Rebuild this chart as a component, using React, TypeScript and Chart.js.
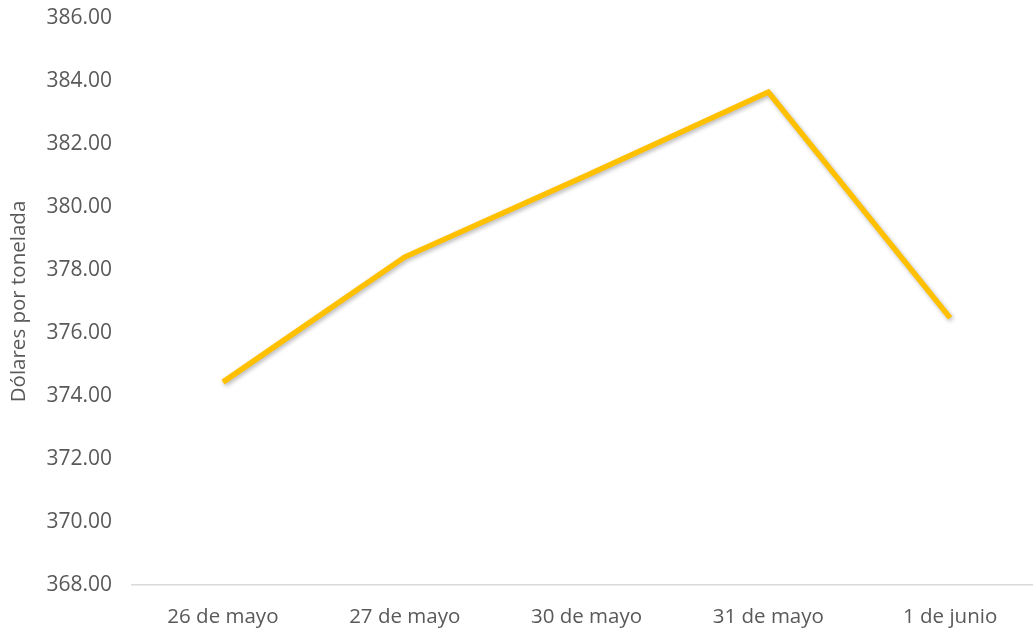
import React, { useEffect, useRef } from "react";
import { Chart, registerables } from "chart.js";

Chart.register(...registerables);

const categories = ["26 de mayo", "27 de mayo", "30 de mayo", "31 de mayo", "1 de junio"];
const prices = [374.44, 378.41, 381.0, 383.65, 376.48];
const yTitle = "Dólares por tonelada";
const yMin = 368;
const yMax = 386;
const yStep = 2;

const shadowPlugin = {
  id: "lineShadow",
  beforeDatasetsDraw(chart: any) {
    const ctx = chart.ctx;
    ctx.save();
    ctx.shadowColor = "rgba(0,0,0,0.28)";
    ctx.shadowBlur = 4;
    ctx.shadowOffsetX = 1.5;
    ctx.shadowOffsetY = 2;
  },
  afterDatasetsDraw(chart: any) {
    chart.ctx.restore();
  },
};

export default function App() {
  const ref = useRef<HTMLCanvasElement | null>(null);
  useEffect(() => {
    if (!ref.current) return;
    const family = "'Open Sans', sans-serif";
    const chart = new Chart(ref.current, {
      type: "line",
      data: {
        labels: categories,
        datasets: [
          {
            data: prices,
            borderColor: "#FFC000",
            borderWidth: 5.5,
            pointRadius: 0,
            pointHoverRadius: 0,
            tension: 0,
            fill: false,
            borderJoinStyle: "miter",
          },
        ],
      },
      options: {
        animation: false,
        responsive: false,
        maintainAspectRatio: false,
        layout: { padding: { top: 18, right: 0, left: 0, bottom: 0 } },
        plugins: { legend: { display: false }, tooltip: { enabled: false } },
        scales: {
          x: {
            offset: true,
            grid: { display: false, drawTicks: false },
            border: { display: true, color: "#D9D9D9", width: 1.5 },
            ticks: { color: "#595959", font: { family, size: 20.5 }, padding: 20, maxRotation: 0, autoSkip: false },
            afterFit: (s: any) => {
              s.height = 49;
              s.paddingLeft = 0;
              s.paddingRight = 0;
            },
          },
          y: {
            min: yMin,
            max: yMax,
            grid: { display: false, drawTicks: false },
            border: { display: false },
            ticks: {
              stepSize: yStep,
              color: "#595959",
              font: { family, size: 21 },
              padding: 20,
              callback: (v: any) => Number(v).toFixed(2),
            },
            title: {
              display: true,
              text: yTitle,
              color: "#595959",
              font: { family, size: 20.5 },
              padding: { top: 7, bottom: 0 },
            },
            afterFit: (s: any) => {
              s.width = 132;
              s.paddingTop = 0;
              s.paddingBottom = 0;
            },
          },
        },
      },
      plugins: [shadowPlugin],
    });
    return () => chart.destroy();
  }, []);
  return (
    <div
      style={{
        position: "fixed",
        left: 0,
        top: 0,
        width: 1033,
        height: 634,
        overflow: "hidden",
        background: "#fff",
      }}
    >
      <canvas ref={ref} width={1041} height={634} style={{ display: "block", width: 1041, height: 634 }} />
    </div>
  );
}
